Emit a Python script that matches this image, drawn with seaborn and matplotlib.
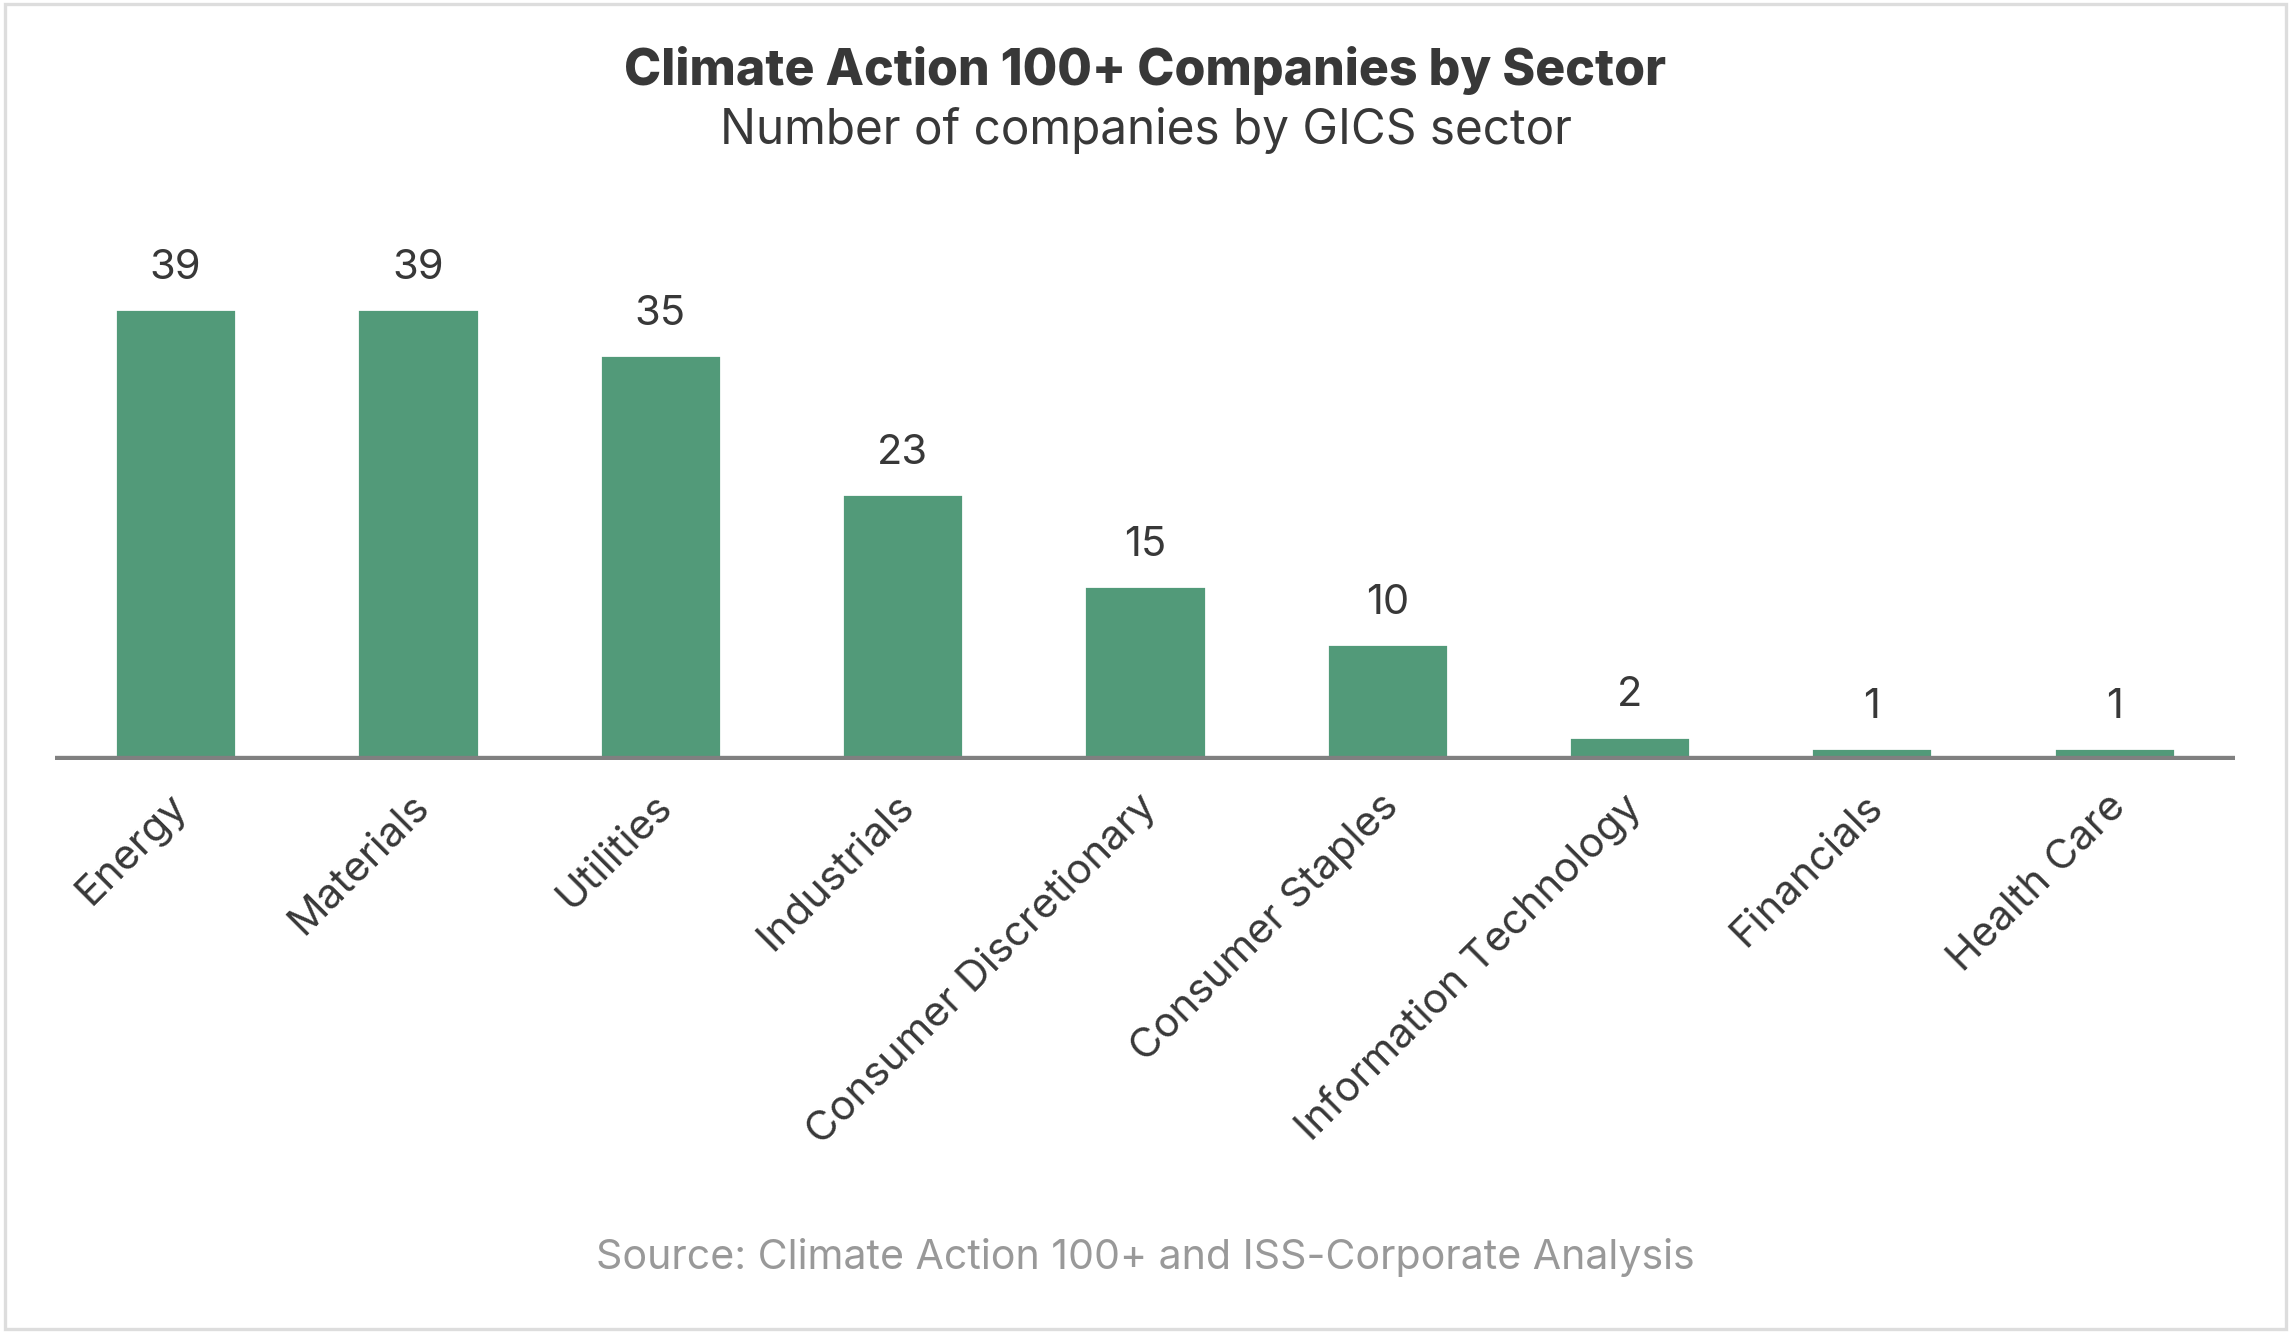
import matplotlib
matplotlib.use("Agg")
import matplotlib.pyplot as plt
import matplotlib.patches as patches
import matplotlib.transforms as mtransforms
import seaborn as sns
import pandas as pd

sectors = ["Energy", "Materials", "Utilities", "Industrials", "Consumer Discretionary",
           "Consumer Staples", "Information Technology", "Financials", "Health Care"]
counts = [39, 39, 35, 23, 15, 10, 2, 1, 1]

title = "Climate Action 100+ Companies by Sector"
subtitle = "Number of companies by GICS sector"
source = "Source: Climate Action 100+ and ISS-Corporate Analysis"

bar_color = "#529a79"
text_color = "#383838"

sns.set_style("white")
plt.rcParams['font.family'] = ['Inter', 'DejaVu Sans']

df = pd.DataFrame({"sector": sectors, "count": counts})

fig = plt.figure(figsize=(11.455, 6.665), dpi=200)
ax = fig.add_axes([0.0238, 0.4301, 0.9519, 0.3884])

sns.barplot(data=df, x="sector", y="count", color=bar_color, width=0.5,
            saturation=1, ax=ax)

ax.set_xlim(-0.5, 8.5)
ax.set_ylim(0, 44.8)
for s in ax.spines.values():
    s.set_visible(False)
ax.axhline(0, color="#808080", lw=3, zorder=5)
ax.set_yticks([])
ax.set_xlabel("")
ax.set_ylabel("")
ax.tick_params(axis="x", length=0, pad=10)
ax.set_xticks(range(len(sectors)))
ax.set_xticklabels(sectors, rotation=45, ha="right", rotation_mode="anchor",
                   fontsize=15, color=text_color)
shift = mtransforms.ScaledTranslation(-0.04, 0, fig.dpi_scale_trans)
for lab in ax.get_xticklabels():
    lab.set_transform(lab.get_transform() + shift)

ax.bar_label(ax.containers[0], labels=[str(c) for c in counts], padding=8,
             fontsize=15, color=text_color)

fig.text(0.5, 0.947, title, ha="center", va="center", fontsize=18,
         fontweight="heavy", color=text_color)
fig.text(0.5, 0.902, subtitle, ha="center", va="center", fontsize=17.2,
         color=text_color)
fig.text(0.5, 0.057, source, ha="center", va="center", fontsize=14.8,
         color="#999999")

fig.patches.append(patches.Rectangle((0.002, 0.003), 0.996, 0.994,
                                     transform=fig.transFigure, fill=False,
                                     edgecolor="#dddddd", lw=1.2))

fig.savefig("out.png", dpi=200)
